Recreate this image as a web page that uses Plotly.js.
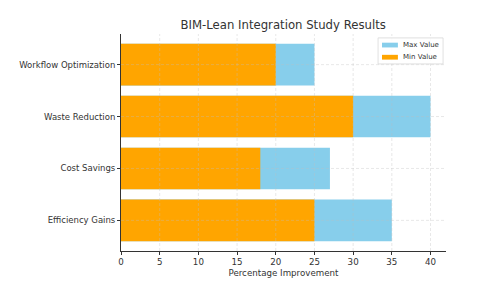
<!DOCTYPE html>
<html><head><meta charset="utf-8">
<script src="https://cdn.plot.ly/plotly-3.0.1.min.js"></script>
<style>body{margin:0;padding:0;background:#fff}#chart{width:480px;height:293px}</style>
</head><body><div id="chart"></div>
<script>
const categories = ["Efficiency Gains", "Cost Savings", "Waste Reduction", "Workflow Optimization"];
const maxValues = [35, 27, 40, 25];
const minValues = [25, 18, 30, 20];
const xTicks = [0, 5, 10, 15, 20, 25, 30, 35, 40];
const seriesNames = ["Max Value", "Min Value"];
const seriesColors = ["#87CEEB", "#FFA500"];

const txt = "#333";
const traces = [
  {type: "bar", orientation: "h", y: categories, x: maxValues, name: seriesNames[0],
   marker: {color: seriesColors[0]}, width: 0.8, showlegend: false},
  {type: "bar", orientation: "h", y: categories, x: minValues, name: seriesNames[1],
   marker: {color: seriesColors[1]}, width: 0.8, showlegend: false}
];

const gridStyle = {color: "rgba(190,190,190,0.45)", width: 0.8, dash: "3px,2px"};
const shapes = [];
xTicks.slice(1).forEach(v => shapes.push({type: "line", layer: "above", xref: "x", yref: "paper",
  x0: v, x1: v, y0: 0, y1: 1, line: gridStyle}));
categories.forEach(c => shapes.push({type: "line", layer: "above", xref: "paper", yref: "y",
  x0: 0, x1: 1, y0: c, y1: c, line: gridStyle}));

// manual legend (matplotlib style)
const annotations = [];
shapes.push({type: "rect", layer: "above", xref: "paper", yref: "paper",
  x0: 0.791, x1: 0.991, y0: 0.862, y1: 0.982, fillcolor: "rgba(255,255,255,0.85)",
  line: {color: "#d8d8d8", width: 0.8}});
const rowY = [0.949, 0.893];
seriesNames.forEach((n, i) => {
  shapes.push({type: "rect", layer: "above", xref: "paper", yref: "paper",
    x0: 0.803, x1: 0.852, y0: rowY[i] - 0.011, y1: rowY[i] + 0.011,
    fillcolor: seriesColors[i], line: {width: 0}});
  annotations.push({xref: "paper", yref: "paper", x: 0.862, y: rowY[i], xanchor: "left", yanchor: "middle",
    text: n, showarrow: false, font: {size: 7, color: txt}});
});

const layout = {
  width: 480, height: 293,
  margin: {l: 121, r: 34, t: 34, b: 42},
  barmode: "overlay",
  paper_bgcolor: "#fff", plot_bgcolor: "#fff",
  font: {family: "DejaVu Sans, sans-serif", size: 8.5, color: txt},
  title: {text: "BIM-Lean Integration Study Results", font: {family: "DejaVu Sans, sans-serif", size: 11.7, color: txt},
          x: 0.59, xanchor: "center", y: 0.915, yanchor: "middle"},
  xaxis: {range: [0, 42], tickvals: xTicks, ticks: "outside", ticklen: 3, tickcolor: txt,
          showline: true, linecolor: txt, linewidth: 1, showgrid: false, zeroline: false,
          tickfont: {size: 8.7},
          title: {text: "Percentage Improvement", font: {size: 8.7, color: txt}, standoff: 3}},
  yaxis: {range: [-0.59, 3.59], ticks: "outside", ticklen: 3, tickcolor: txt,
          showline: true, linecolor: txt, linewidth: 1, showgrid: false, zeroline: false},
  shapes: shapes,
  annotations: annotations,
  showlegend: false
};
Plotly.newPlot("chart", traces, layout, {displayModeBar: false, staticPlot: true});
</script></body></html>
